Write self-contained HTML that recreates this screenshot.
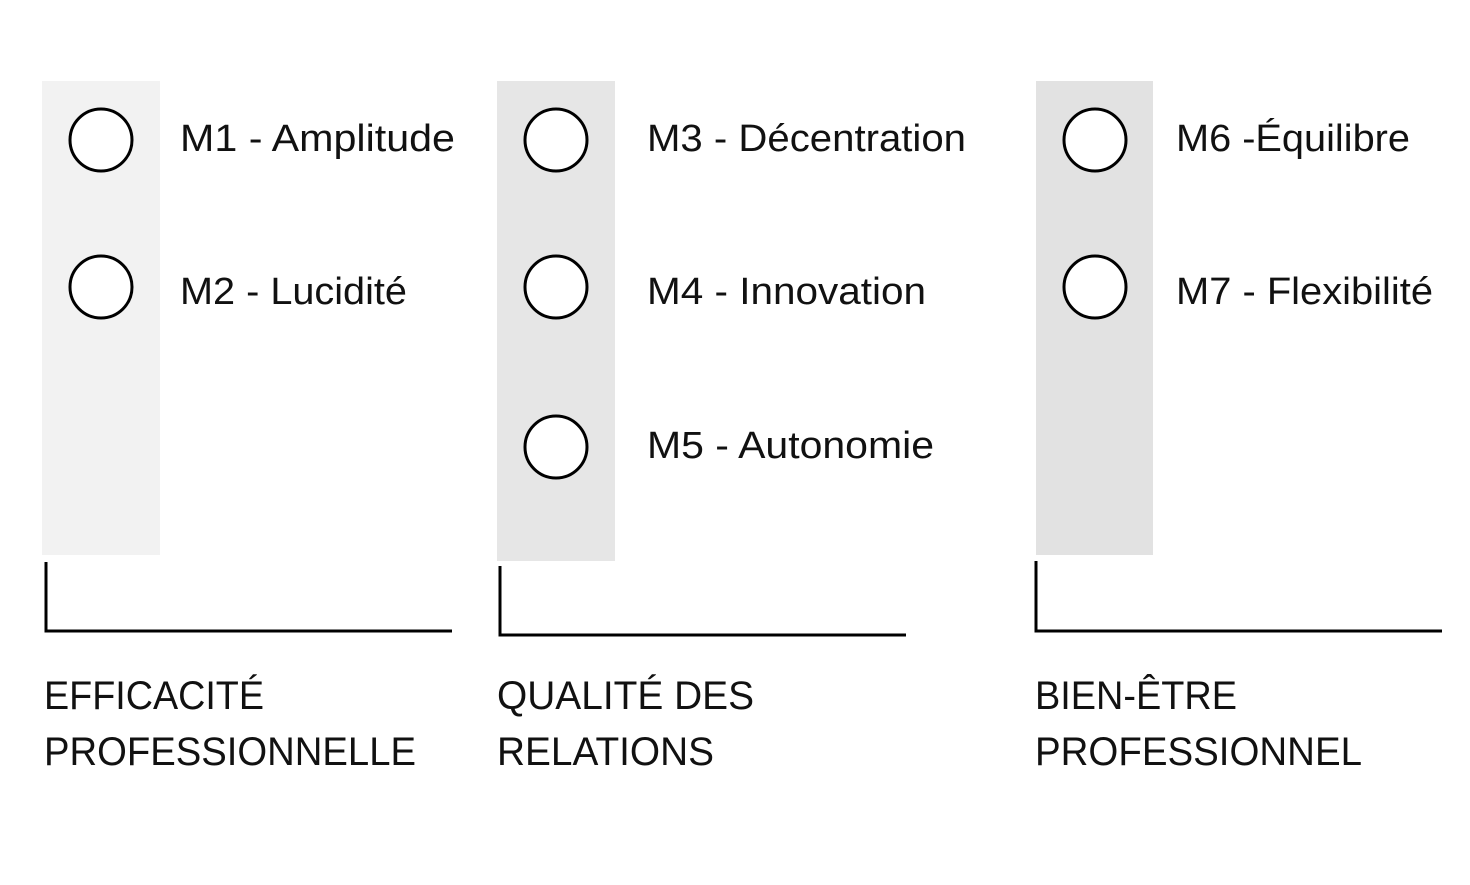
<!DOCTYPE html>
<html><head><meta charset="utf-8"><style>html,body{margin:0;padding:0;background:#fff}</style></head>
<body>
<svg width="1470" height="880" xmlns="http://www.w3.org/2000/svg" font-family="Liberation Sans, sans-serif" fill="#111">
<rect width="1470" height="880" fill="#fff"/>
<rect x="42" y="81" width="118" height="474" fill="#f2f2f2"/>
<rect x="497" y="81" width="118" height="480" fill="#e6e6e6"/>
<rect x="1036" y="81" width="117" height="474" fill="#e2e2e2"/>
<g fill="#fff" stroke="#000" stroke-width="3">
<circle cx="101" cy="140" r="31"/><circle cx="101" cy="287" r="31"/>
<circle cx="556" cy="140" r="31"/><circle cx="556" cy="287" r="31"/><circle cx="556" cy="447" r="31"/>
<circle cx="1095" cy="140" r="31"/><circle cx="1095" cy="287" r="31"/>
</g>
<g fill="none" stroke="#000" stroke-width="3">
<polyline points="46,562 46,631 452,631"/>
<polyline points="500,566 500,635 906,635"/>
<polyline points="1036,561 1036,631 1442,631"/>
</g>
<g font-size="38">
<text x="180" y="151" textLength="275" lengthAdjust="spacingAndGlyphs">M1 - Amplitude</text>
<text x="180" y="304" textLength="227" lengthAdjust="spacingAndGlyphs">M2 - Lucidité</text>
<text x="647" y="151" textLength="319" lengthAdjust="spacingAndGlyphs">M3 - Décentration</text>
<text x="647" y="304" textLength="279" lengthAdjust="spacingAndGlyphs">M4 - Innovation</text>
<text x="647" y="458" textLength="287" lengthAdjust="spacingAndGlyphs">M5 - Autonomie</text>
<text x="1176" y="151" textLength="234" lengthAdjust="spacingAndGlyphs">M6 -Équilibre</text>
<text x="1176" y="304" textLength="257" lengthAdjust="spacingAndGlyphs">M7 - Flexibilité</text>
</g>
<g font-size="40">
<text x="44" y="709" textLength="220" lengthAdjust="spacingAndGlyphs">EFFICACITÉ</text>
<text x="44" y="765" textLength="372" lengthAdjust="spacingAndGlyphs">PROFESSIONNELLE</text>
<text x="497" y="709" textLength="257" lengthAdjust="spacingAndGlyphs">QUALITÉ DES</text>
<text x="497" y="765" textLength="217" lengthAdjust="spacingAndGlyphs">RELATIONS</text>
<text x="1035" y="709" textLength="202" lengthAdjust="spacingAndGlyphs">BIEN-ÊTRE</text>
<text x="1035" y="765" textLength="327" lengthAdjust="spacingAndGlyphs">PROFESSIONNEL</text>
</g>
</svg>
</body></html>
